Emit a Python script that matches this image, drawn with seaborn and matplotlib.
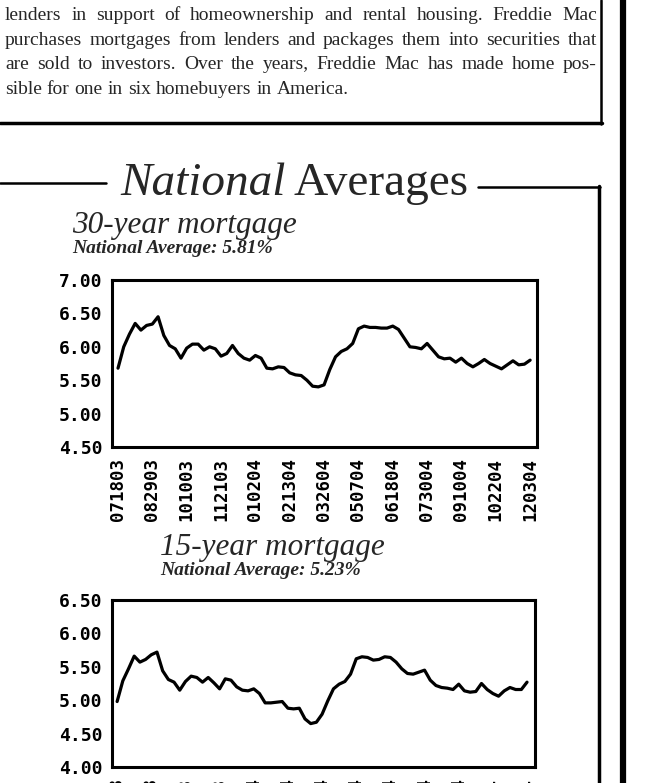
import matplotlib
matplotlib.use("Agg")
import matplotlib.pyplot as plt
from matplotlib.lines import Line2D
import seaborn as sns
import pandas as pd

# weekly rates (07/18/03 .. 12/03/04)
rate_30yr = [
    5.68, 6.00, 6.19, 6.35, 6.25, 6.32, 6.34, 6.45, 6.17, 6.02,
    5.97, 5.83, 5.98, 6.04, 6.04, 5.95, 6.00, 5.97, 5.86, 5.90,
    6.02, 5.90, 5.83, 5.80, 5.87, 5.83, 5.68, 5.67, 5.70, 5.69,
    5.61, 5.58, 5.57, 5.50, 5.41, 5.40, 5.43, 5.66, 5.85, 5.93,
    5.97, 6.05, 6.27, 6.31, 6.29, 6.29, 6.28, 6.28, 6.31, 6.26,
    6.13, 6.00, 5.99, 5.97, 6.05, 5.95, 5.85, 5.82, 5.83, 5.77,
    5.83, 5.75, 5.70, 5.75, 5.81, 5.75, 5.71, 5.67, 5.73, 5.79,
    5.73, 5.74, 5.80,
]
rate_15yr = [
    4.98, 5.29, 5.47, 5.66, 5.57, 5.61, 5.68, 5.72, 5.44, 5.31,
    5.27, 5.15, 5.28, 5.36, 5.34, 5.27, 5.34, 5.26, 5.17, 5.32,
    5.30, 5.20, 5.15, 5.14, 5.17, 5.10, 4.96, 4.96, 4.97, 4.98,
    4.88, 4.87, 4.88, 4.72, 4.65, 4.67, 4.79, 4.99, 5.17, 5.24,
    5.28, 5.39, 5.62, 5.65, 5.64, 5.60, 5.61, 5.65, 5.64, 5.57,
    5.47, 5.40, 5.39, 5.42, 5.45, 5.30, 5.22, 5.19, 5.18, 5.16,
    5.24, 5.14, 5.12, 5.13, 5.25, 5.16, 5.10, 5.06, 5.14, 5.19,
    5.16, 5.16, 5.27,
]
date_labels = ["071803", "082903", "101003", "112103", "010204", "021304",
               "032604", "050704", "061804", "073004", "091004", "102204",
               "120304"]
ticks_30 = [4.5, 5.0, 5.5, 6.0, 6.5, 7.0]
ticks_15 = [4.0, 4.5, 5.0, 5.5, 6.0, 6.5]

paragraph = [
    "lenders in support of homeownership and rental housing. Freddie Mac",
    "purchases mortgages from lenders and packages them into securities that",
    "are sold to investors. Over the years, Freddie Mac has made home pos-",
    "sible for one in six homebuyers in America.",
]

W, H = 650, 783


def px(x, y):
    return x / W, 1 - y / H


def hline(fig, x0, x1, y, lw):
    a, b = px(x0, y)
    c, _ = px(x1, y)
    fig.add_artist(Line2D([a, c], [b, b], color="black", lw=lw, transform=fig.transFigure))


def vline(fig, x, y0, y1, lw):
    a, b = px(x, y0)
    _, d = px(x, y1)
    fig.add_artist(Line2D([a, a], [b, d], color="black", lw=lw, transform=fig.transFigure))


def draw_rates(ax, rates, yticks, xlim):
    df = pd.DataFrame({"week": range(len(rates)), "rate": rates})
    sns.lineplot(data=df, x="week", y="rate", ax=ax, color="black", linewidth=2.3)
    ax.set_xlim(*xlim)
    ax.set_ylim(yticks[0], yticks[-1])
    ax.set_yticks(yticks)
    ax.set_yticklabels([f"{t:.2f}" for t in yticks])
    ax.set_xticks([i * 6 for i in range(len(date_labels))])
    ax.set_xticklabels(date_labels, rotation=90)
    ax.set_xlabel("")
    ax.set_ylabel("")
    for s in ax.spines.values():
        s.set_linewidth(2.2)
        s.set_color("black")
    ax.tick_params(direction="in", length=5, width=2, colors="black")
    ax.tick_params(axis="y", pad=7)
    ax.tick_params(axis="x", pad=8)
    for lab in ax.get_xticklabels() + ax.get_yticklabels():
        lab.set_fontfamily("DejaVu Sans Mono")
        lab.set_fontweight("bold")
    for lab in ax.get_yticklabels():
        lab.set_fontsize(13)
    for lab in ax.get_xticklabels():
        lab.set_fontsize(12.5)


def main():
    sns.set_style("white")
    plt.rcParams["font.family"] = ["Liberation Serif", "DejaVu Serif"]

    fig = plt.figure(figsize=(6.5, 7.83), dpi=100)
    fig.patch.set_facecolor("white")
    renderer = fig.canvas.get_renderer()

    # paragraph box at top, justified like the newspaper column
    left, right = 5, 597
    for i, line in enumerate(paragraph):
        y = 20 + i * 24.7
        words = line.split(" ")
        texts = [fig.text(0, 0, w, fontsize=14, va="baseline", ha="left") for w in words]
        widths = [t.get_window_extent(renderer).width for t in texts]
        if i < len(paragraph) - 1:
            gap = (right - left - sum(widths)) / (len(words) - 1)
        else:
            gap = 5
        x = left
        for t, w in zip(texts, widths):
            t.set_position(px(x, y))
            x += w + gap
    hline(fig, 0, 602, 123, 2.5)
    vline(fig, 601, 0, 124, 1.8)
    vline(fig, 623, 0, H, 4.5)

    # section frame around the charts
    hline(fig, 0, 106, 183, 1.8)
    hline(fig, 478, 600, 187, 1.8)
    vline(fig, 599, 186, H, 2.5)

    x, y = px(120, 195)
    t = fig.text(x, y, "National", fontsize=34, style="italic", va="baseline")
    w = t.get_window_extent(renderer).width
    x, y = px(120 + w + 8, 195)
    fig.text(x, y, "Averages", fontsize=34, va="baseline")

    x, y = px(72, 233)
    fig.text(x, y, "30-year mortgage", fontsize=22.5, style="italic", va="baseline")
    x, y = px(72, 253)
    fig.text(x, y, "National Average: 5.81%", fontsize=14, style="italic",
             weight="bold", va="baseline")

    x, y = px(160, 555)
    fig.text(x, y, "15-year mortgage", fontsize=22.5, style="italic", va="baseline")
    x, y = px(160, 575)
    fig.text(x, y, "National Average: 5.23%", fontsize=14, style="italic",
             weight="bold", va="baseline")

    ax1 = fig.add_axes([112 / W, 1 - 447 / H, 425 / W, 167 / H])
    draw_rates(ax1, rate_30yr, ticks_30, (-1.05, 73.2))

    ax2 = fig.add_axes([112 / W, 1 - 767 / H, 423 / W, 167 / H])
    draw_rates(ax2, rate_15yr, ticks_15, (-0.9, 73.4))

    fig.savefig("out.png", dpi=100)


if __name__ == "__main__":
    main()
